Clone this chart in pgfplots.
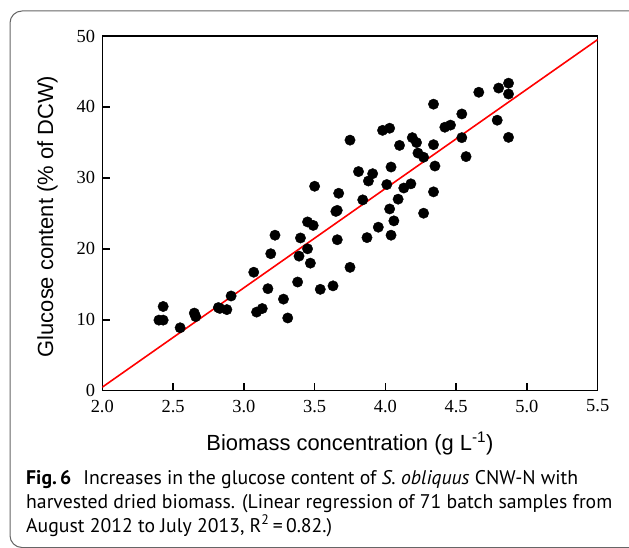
\documentclass[border=0pt]{standalone}
\usepackage{fontspec}
\setmainfont{Liberation Serif}
\newfontfamily\arialfont{Liberation Sans}
\newfontfamily\capfont{PT Sans}
\usepackage{pgfplots}
\pgfplotsset{compat=1.18}
\usepackage{pgfplotstable}

\pgfplotstableread{
x y
2.40 9.95
2.43 9.95
2.43 11.87
2.55 8.87
2.65 10.94
2.66 10.44
2.82 11.72
2.83 11.60
2.88 11.43
2.91 13.35
3.07 16.70
3.09 11.08
3.13 11.58
3.17 14.38
3.19 19.31
3.22 21.92
3.28 12.91
3.31 10.25
3.38 15.32
3.39 18.97
3.40 21.53
3.45 20.00
3.45 23.79
3.49 23.30
3.47 17.98
3.50 28.82
3.54 14.29
3.63 14.78
3.65 25.27
3.66 25.42
3.67 27.83
3.66 21.28
3.75 35.32
3.75 17.39
3.81 30.89
3.84 26.90
3.87 21.58
3.88 29.56
3.91 30.59
3.95 23.05
3.98 36.70
4.03 37.00
4.01 29.06
4.03 25.62
4.04 31.53
4.04 21.92
4.06 23.94
4.09 27.00
4.10 34.58
4.13 28.57
4.18 29.16
4.19 35.67
4.22 34.98
4.23 33.50
4.27 32.91
4.27 25.02
4.34 40.39
4.34 34.68
4.35 31.67
4.34 28.03
4.42 37.14
4.46 37.44
4.54 35.67
4.54 39.01
4.57 33.00
4.66 42.07
4.79 38.13
4.80 42.66
4.87 35.71
4.87 43.35
4.87 41.82
}\datatable

\pgfplotstableread{
x y
2.0 0.5
5.5 49.5
}\fittable

\begin{document}
\begin{tikzpicture}
\useasboundingbox (0,0) rectangle (629bp,548bp);
\draw[black!60, line width=1bp, rounded corners=12bp] (10bp,0.5bp) rectangle (700bp,537bp);
\begin{axis}[
  at={(102.3bp,157.3bp)}, anchor=south west,
  scale only axis, width=495.4bp, height=354.7bp,
  xmin=2, xmax=5.5, ymin=0, ymax=50,
  xtick={2,2.5,...,5.5}, ytick={0,10,...,50},
  xtick pos=bottom, ytick pos=left,
  tick align=inside, major tick length=8bp,
  axis line style={line width=1.5bp},
  every tick/.style={black, line width=1.5bp},
  /pgf/number format/assume math mode=true,
  ticklabel style={font=\fontsize{18.5}{18.5}\selectfont, inner sep=1bp},
  xticklabel style={yshift=-8bp, /pgf/number format/.cd, fixed, fixed zerofill, precision=1},
  yticklabel style={xshift=-6bp, /pgf/number format/.cd, fixed, precision=0},
  xlabel={Biomass concentration (g L\textsuperscript{-1})},
  ylabel={Glucose content (\% of DCW)},
  label style={font=\arialfont\fontsize{22}{22}\selectfont},
  xlabel style={at={(axis description cs:0.5,-0.168)}, anchor=base},
  ylabel style={at={(axis description cs:-0.0995,0.491)}, anchor=base},
]
\addplot[red, line width=1.6bp] table[x=x, y=y] {\fittable};
\addplot[only marks, mark=*, mark size=5.2bp, black] table[x=x, y=y] {\datatable};
\end{axis}
\begin{scope}[every node/.style={anchor=base west, inner sep=0pt, font=\capfont\fontsize{19.8}{19.8}\selectfont}]
\node at (26bp,63bp) {\textbf{Fig.\,6}\hspace{0.6em}Increases in the glucose content of \textit{S. obliquus} CNW-N with};
\node at (26bp,39.5bp) {harvested dried biomass. (Linear regression of 71 batch samples from};
\node at (26bp,16bp) {August 2012 to July 2013, R\textsuperscript{2}\,=\,0.82.)};
\end{scope}
\end{tikzpicture}
\end{document}
